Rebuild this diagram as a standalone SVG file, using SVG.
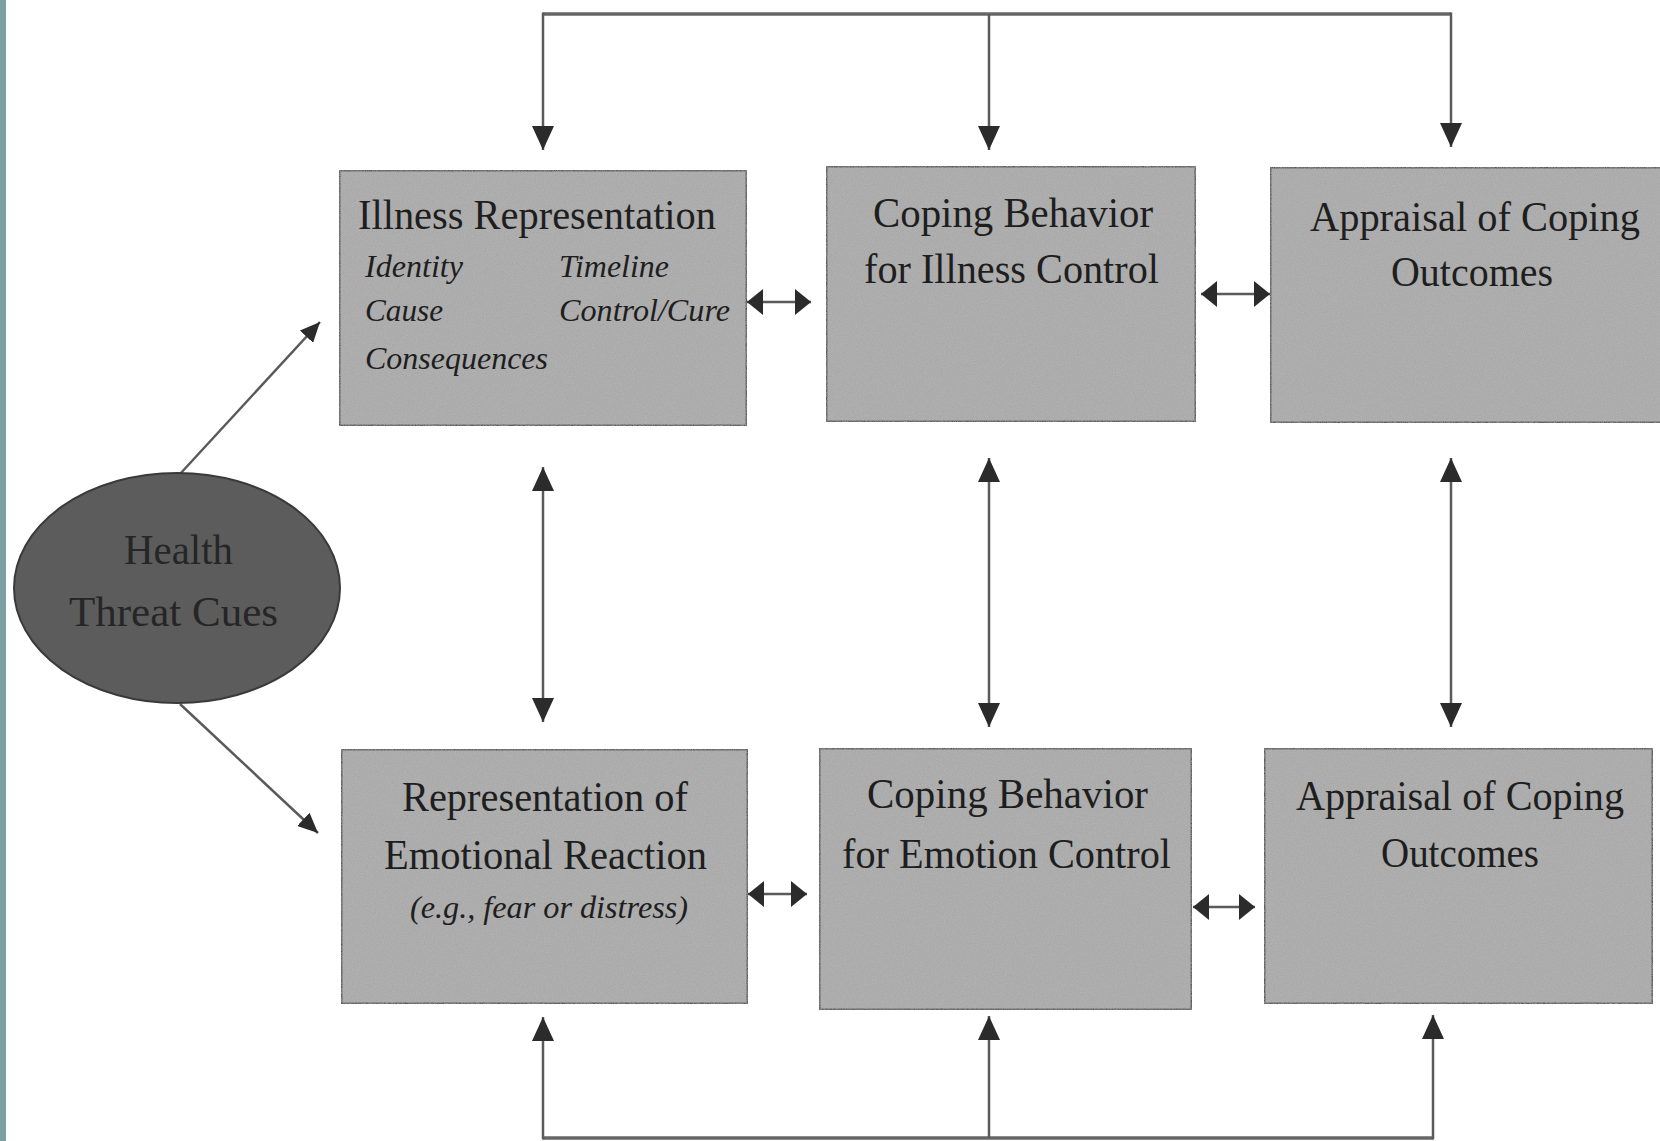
<svg xmlns="http://www.w3.org/2000/svg" width="1660" height="1141" viewBox="0 0 1660 1141">
<style>
.box{fill:#a9a9a9;stroke:#555;stroke-width:3}
.t{font-family:"Liberation Serif","Times New Roman",serif;font-size:43px;fill:#1e1e1e}
.it{font-family:"Liberation Serif","Times New Roman",serif;font-style:italic;font-size:32px;fill:#1e1e1e}
.et{font-family:"Liberation Serif","Times New Roman",serif;font-size:42px;fill:#262626}
.ln{fill:none;stroke:#5a5a5a;stroke-width:2.5}
.lt{fill:none;stroke:#666;stroke-width:3.5}
</style>
<defs>
<filter id="grain" x="0" y="0" width="100%" height="100%">
<feTurbulence type="fractalNoise" baseFrequency="0.9" numOctaves="2" seed="4" result="n"/>
<feColorMatrix in="n" type="matrix" values="0 0 0 0 0.5  0 0 0 0 0.5  0 0 0 0 0.5  0 0 0 0.9 -0.25" result="g"/>
<feComposite in="g" in2="SourceGraphic" operator="in" result="gi"/>
<feMerge><feMergeNode in="SourceGraphic"/><feMergeNode in="gi"/></feMerge>
</filter>
<marker id="av" viewBox="0 0 24 22" refX="24" refY="11" markerWidth="24" markerHeight="22" markerUnits="userSpaceOnUse" orient="auto-start-reverse">
<path d="M0,0 L24,11 L0,22 z" fill="#2b2b2b"/>
</marker>
<marker id="ah" viewBox="0 0 16 26" refX="16" refY="13" markerWidth="16" markerHeight="26" markerUnits="userSpaceOnUse" orient="auto-start-reverse">
<path d="M0,0 L16,13 L0,26 z" fill="#2b2b2b"/>
</marker>
<marker id="ad" viewBox="0 0 20 18" refX="20" refY="9" markerWidth="20" markerHeight="18" markerUnits="userSpaceOnUse" orient="auto">
<path d="M0,0 L20,9 L0,18 z" fill="#2b2b2b"/>
</marker>
</defs>
<rect x="0" y="0" width="1660" height="1141" fill="#fff"/>
<rect x="0" y="0" width="6" height="1141" fill="#7e9fa3"/>

<g id="connectors">
<path class="lt" d="M543,14 H1451"/>
<path class="ln" d="M543,12.5 V150" marker-end="url(#av)"/>
<path class="ln" d="M989,14 V150" marker-end="url(#av)"/>
<path class="ln" d="M1451,12.5 V147" marker-end="url(#av)"/>
<path class="lt" d="M543,1138 H1433"/>
<path class="ln" d="M543,1139.5 V1017" marker-end="url(#av)"/>
<path class="ln" d="M989,1138 V1016" marker-end="url(#av)"/>
<path class="ln" d="M1433,1139.5 V1015" marker-end="url(#av)"/>
<path class="ln" d="M543,467 V722" marker-start="url(#av)" marker-end="url(#av)"/>
<path class="ln" d="M989,458 V727" marker-start="url(#av)" marker-end="url(#av)"/>
<path class="ln" d="M1451,458 V727" marker-start="url(#av)" marker-end="url(#av)"/>
<path class="ln" d="M747,302 H811" stroke-width="3.5" marker-start="url(#ah)" marker-end="url(#ah)"/>
<path class="ln" d="M1201,294 H1270" stroke-width="3.5" marker-start="url(#ah)" marker-end="url(#ah)"/>
<path class="ln" d="M748,894 H807" stroke-width="3.5" marker-start="url(#ah)" marker-end="url(#ah)"/>
<path class="ln" d="M1193,907 H1255" stroke-width="3.5" marker-start="url(#ah)" marker-end="url(#ah)"/>
<path class="ln" d="M180,474 L320,322" stroke-width="2" marker-end="url(#ad)"/>
<path class="ln" d="M180,704 L318,833" stroke-width="2" marker-end="url(#ad)"/>
</g>

<g id="health-threat-cues">
<ellipse cx="177" cy="588" rx="163" ry="115" fill="#5c5c5c" stroke="#3a3a3a" stroke-width="2"/>
<text class="et" x="124" y="564" textLength="109" lengthAdjust="spacingAndGlyphs">Health</text>
<text class="et" x="69" y="626" textLength="209" lengthAdjust="spacingAndGlyphs">Threat Cues</text>
</g>

<g id="illness-representation">
<rect class="box" x="339" y="170" width="408" height="256" filter="url(#grain)"/>
<text class="t" x="358" y="229" textLength="358" lengthAdjust="spacingAndGlyphs">Illness Representation</text>
<text class="it" x="365" y="277" textLength="98" lengthAdjust="spacingAndGlyphs">Identity</text>
<text class="it" x="559" y="277" textLength="110" lengthAdjust="spacingAndGlyphs">Timeline</text>
<text class="it" x="365" y="321" textLength="78" lengthAdjust="spacingAndGlyphs">Cause</text>
<text class="it" x="559" y="321" textLength="171" lengthAdjust="spacingAndGlyphs">Control/Cure</text>
<text class="it" x="365" y="369" textLength="183" lengthAdjust="spacingAndGlyphs">Consequences</text>
</g>

<g id="coping-illness">
<rect class="box" x="826" y="166" width="370" height="256" filter="url(#grain)"/>
<text class="t" x="873" y="227" textLength="280" lengthAdjust="spacingAndGlyphs">Coping Behavior</text>
<text class="t" x="864" y="283" textLength="295" lengthAdjust="spacingAndGlyphs">for Illness Control</text>
</g>

<g id="appraisal-top">
<rect class="box" x="1270" y="167" width="392" height="256" filter="url(#grain)"/>
<text class="t" x="1310" y="231" textLength="330" lengthAdjust="spacingAndGlyphs">Appraisal of Coping</text>
<text class="t" x="1391" y="286" textLength="162" lengthAdjust="spacingAndGlyphs">Outcomes</text>
</g>

<g id="emotional-representation">
<rect class="box" x="341" y="749" width="407" height="255" filter="url(#grain)"/>
<text class="t" x="402" y="811" textLength="286" lengthAdjust="spacingAndGlyphs">Representation of</text>
<text class="t" x="384" y="869" textLength="323" lengthAdjust="spacingAndGlyphs">Emotional Reaction</text>
<text class="it" x="410" y="918" font-size="30" textLength="278" lengthAdjust="spacingAndGlyphs">(e.g., fear or distress)</text>
</g>

<g id="coping-emotion">
<rect class="box" x="819" y="748" width="373" height="262" filter="url(#grain)"/>
<text class="t" x="867" y="808" textLength="281" lengthAdjust="spacingAndGlyphs">Coping Behavior</text>
<text class="t" x="842" y="868" textLength="329" lengthAdjust="spacingAndGlyphs">for Emotion Control</text>
</g>

<g id="appraisal-bottom">
<rect class="box" x="1264" y="748" width="389" height="256" filter="url(#grain)"/>
<text class="t" x="1296" y="810" textLength="328" lengthAdjust="spacingAndGlyphs">Appraisal of Coping</text>
<text class="t" x="1381" y="867" textLength="158" lengthAdjust="spacingAndGlyphs">Outcomes</text>
</g>
</svg>
